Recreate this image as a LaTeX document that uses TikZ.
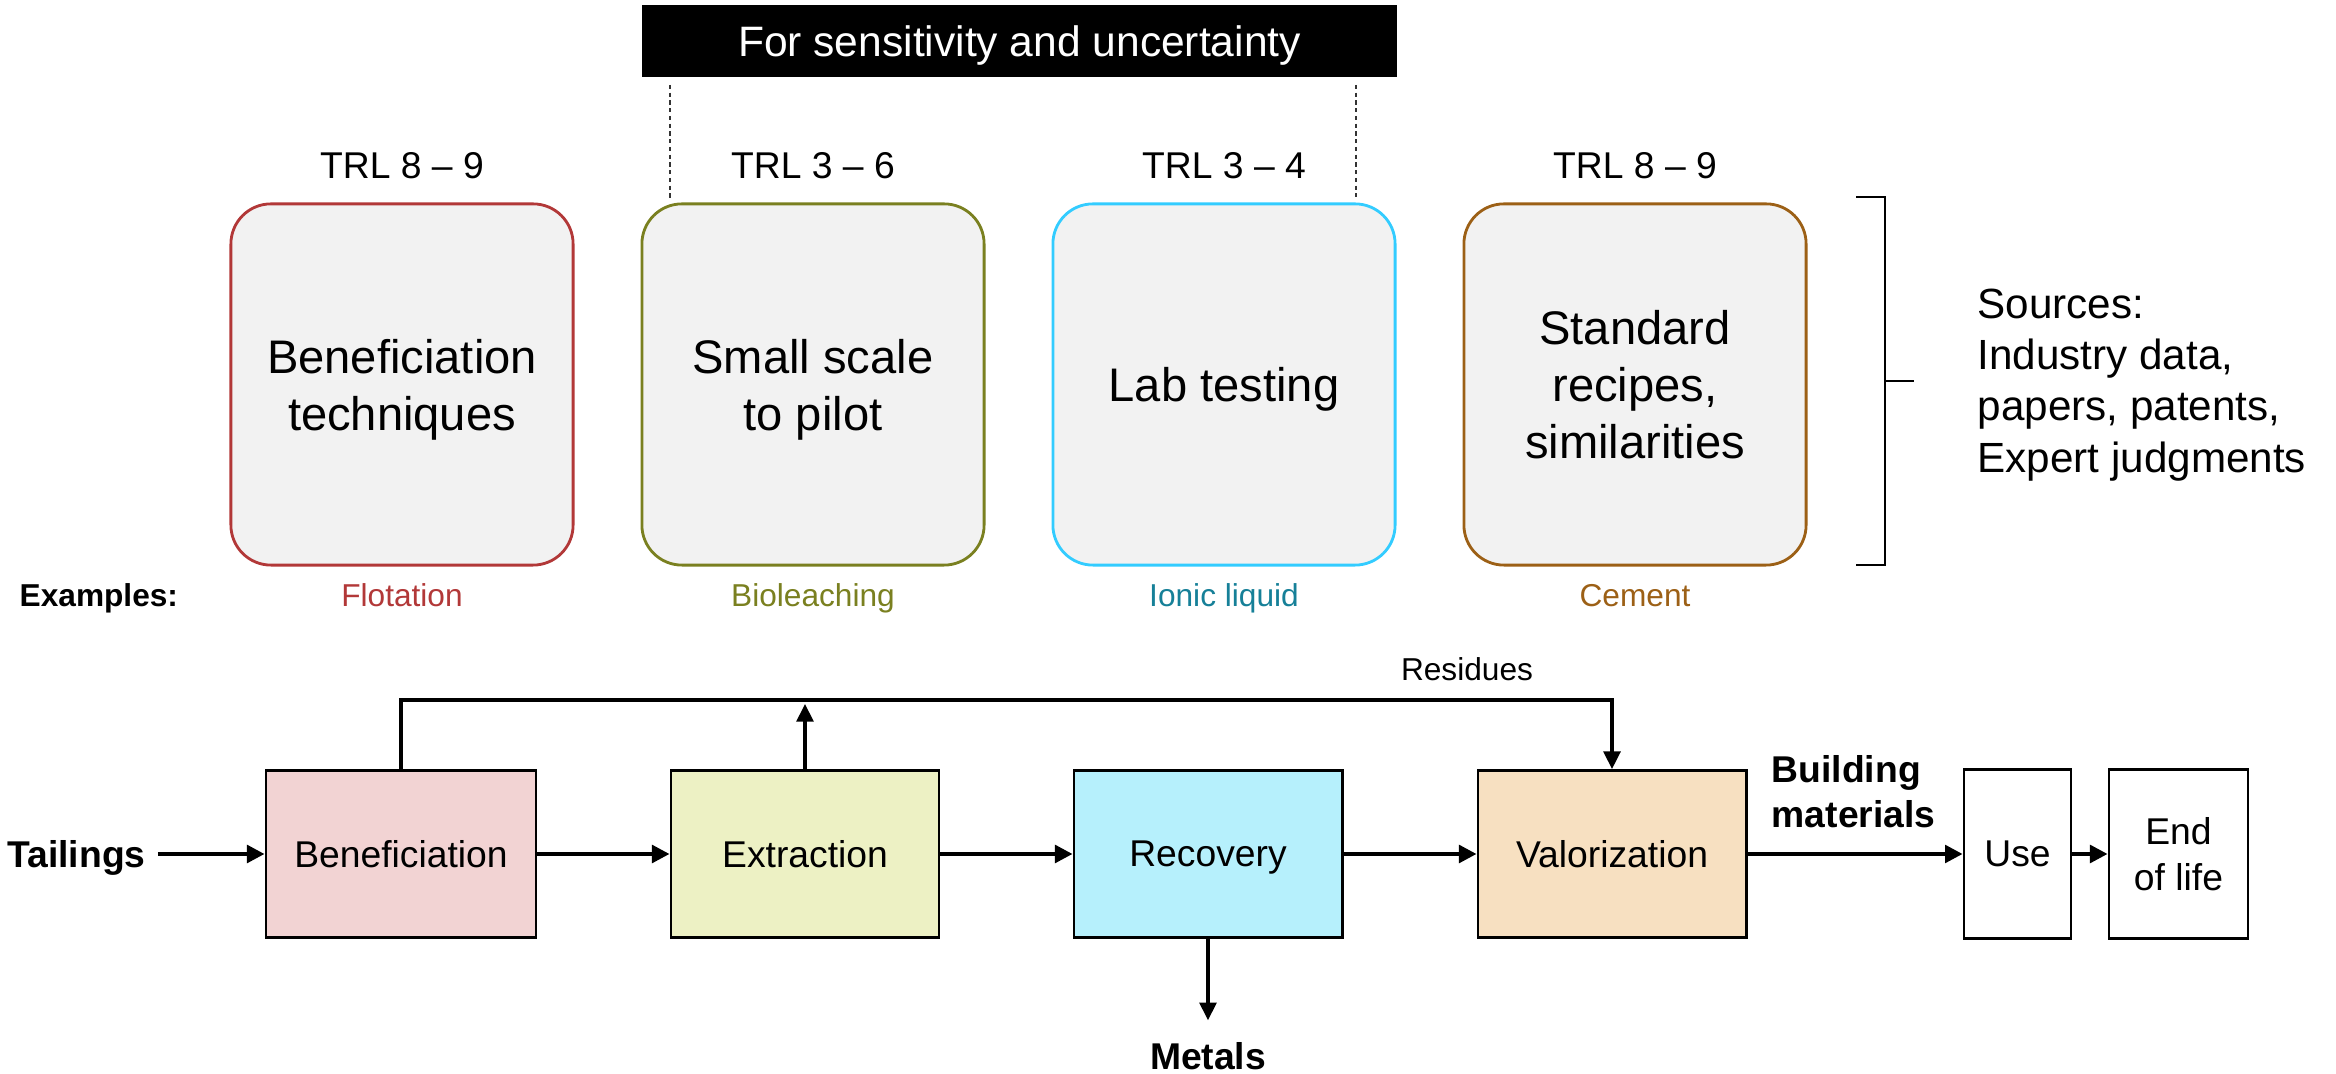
\documentclass[tikz,border=0pt]{standalone}
\usepackage{fontspec}
\setmainfont{Liberation Sans}
\usetikzlibrary{arrows.meta}

\definecolor{flotred}{RGB}{178,56,56}
\definecolor{bioolive}{RGB}{122,128,32}
\definecolor{labcyan}{RGB}{51,204,255}
\definecolor{ionteal}{RGB}{22,128,152}
\definecolor{cembrown}{RGB}{156,96,22}
\definecolor{boxgray}{RGB}{242,242,242}
\definecolor{benfill}{RGB}{242,211,211}
\definecolor{extfill}{RGB}{237,241,196}
\definecolor{recfill}{RGB}{182,240,252}
\definecolor{valfill}{RGB}{247,224,193}

\begin{document}
\begin{tikzpicture}[x=0.01cm, y=-0.01cm,
	trlbox/.style={shape=rectangle, rounded corners=0.4cm, fill=boxgray, line width=0.8pt, minimum width=3.42cm, minimum height=3.61cm, text depth=0pt, align=center, font=\fontsize{13.4}{16.2}\selectfont},
	procbox/.style={shape=rectangle, draw=black, line width=0.8pt, minimum height=1.67cm, text depth=0pt, align=center, font=\fontsize{10.6}{13.1}\selectfont},
	flow/.style={-{Triangle[length=5pt,width=5pt]}, line width=1.1pt},
	side/.style={-{Triangle[length=5pt,width=4.8pt]}, line width=0.9pt},
	trl/.style={anchor=base, font=\fontsize{10.6}{12}\selectfont},
	example/.style={anchor=base, font=\fontsize{9}{11}\selectfont}]
	\useasboundingbox (0,0) rectangle (2336,1074);

	% banner and its range
	\node[fill=black, text=white, minimum width=7.55cm, minimum height=0.72cm, text depth=0pt, font=\fontsize{12.1}{14}\selectfont] (banner) at (1019.5,41) {For sensitivity and uncertainty};
	\draw[line width=0.4pt, dash pattern=on 1.2pt off 1pt, black!80] (670,85)  -- (670,198);
	\draw[line width=0.4pt, dash pattern=on 1.2pt off 1pt, black!80] (1356,85) -- (1356,197);

	% maturity boxes
	\node[trlbox, draw=flotred]  (tb1) at (402,384.5)  {Beneficiation\\techniques};
	\node[trlbox, draw=bioolive] (tb2) at (813,384.5)  {Small scale\\to pilot};
	\node[trlbox, draw=labcyan]  (tb3) at (1224,384.5) {Lab testing};
	\node[trlbox, draw=cembrown] (tb4) at (1635,384.5) {Standard\\recipes,\\similarities};

	\node[trl] (trl1) at (402,179)  {TRL 8 – 9};
	\node[trl] (trl2) at (813,179)  {TRL 3 – 6};
	\node[trl] (trl3) at (1224,179) {TRL 3 – 4};
	\node[trl] (trl4) at (1635,179) {TRL 8 – 9};

	\node[example, anchor=base west, inner sep=0pt, font=\fontsize{9}{11}\selectfont\bfseries] (ex) at (19,607) {Examples:};
	\node[example, text=flotred]  (ex1) at (402,607)  {Flotation};
	\node[example, text=bioolive] (ex2) at (813,607)  {Bioleaching};
	\node[example, text=ionteal]  (ex3) at (1224,607) {Ionic liquid};
	\node[example, text=cembrown] (ex4) at (1635,607) {Cement};

	% sources bracket
	\draw[line width=0.45pt] (1856,197) -- (1885,197) -- (1885,565) -- (1856,565);
	\draw[line width=0.45pt] (1885,381) -- (1914,381);
	\node[anchor=north west, inner sep=0pt, align=left, font=\fontsize{12}{14.6}\selectfont] (src) at (1977,288) {Sources:\\Industry data,\\papers, patents,\\Expert judgments};

	% process chain
	\node[text depth=0pt, font=\fontsize{10.6}{13}\selectfont\bfseries] (tail) at (76.5,854) {Tailings};
	\node[procbox, fill=benfill, minimum width=2.70cm] (b1) at (401,854)  {Beneficiation};
	\node[procbox, fill=extfill, minimum width=2.68cm] (b2) at (805,854)  {Extraction};
	\node[procbox, fill=recfill, minimum width=2.68cm] (b3) at (1208,854) {Recovery};
	\node[procbox, fill=valfill, minimum width=2.68cm] (b4) at (1612,854) {Valorization};
	\node[procbox, fill=white, minimum width=1.07cm, minimum height=1.69cm] (use) at (2017.5,854) {Use};
	\node[procbox, fill=white, minimum width=1.39cm, minimum height=1.69cm] (eol) at (2178.5,854) {End\\of life};

	\node[anchor=south west, inner sep=0pt, align=left, font=\fontsize{10.6}{12.8}\selectfont\bfseries] (bm) at (1771,829) {Building\\materials};
	\node[anchor=base, font=\fontsize{9}{11}\selectfont] (res) at (1467,681) {Residues};
	\node[text depth=0pt, font=\fontsize{10.6}{13}\selectfont\bfseries] (metals) at (1208,1056) {Metals};

	\path [flow] (tail) edge (b1);
	\path [flow] (b1)   edge (b2);
	\path [flow] (b2)   edge (b3);
	\path [flow] (b3)   edge (b4);
	\path [flow] (b4)   edge (use);
	\path [flow] (use)  edge (eol);

	\draw[side] (b1.north) -- ++(0,-69) -| (b4.north);
	\draw[side] (b2.north) -- ++(0,-65);
	\draw[side, shorten >=2.8pt] (b3) -- (metals);
\end{tikzpicture}
\end{document}
